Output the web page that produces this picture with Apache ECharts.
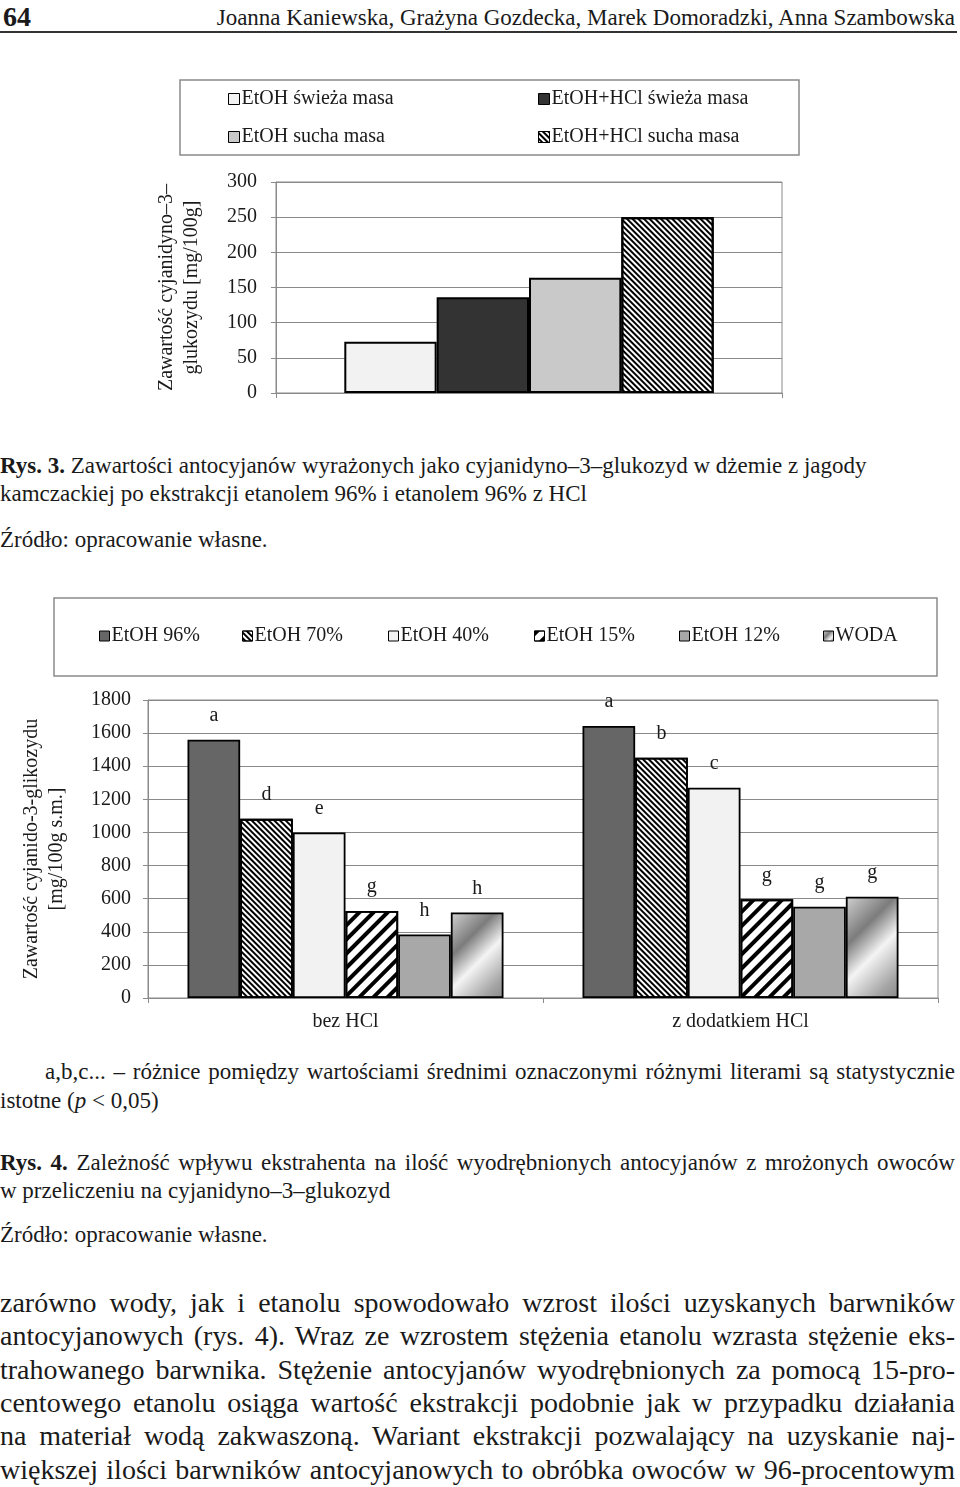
<!DOCTYPE html>
<html lang="pl">
<head>
<meta charset="utf-8">
<title>Rys. 3, Rys. 4</title>
<script src="https://cdn.jsdelivr.net/npm/echarts@6.0.0/dist/echarts.min.js"></script>
<style>
    html, body { margin: 0; padding: 0; background: #fff; }
    body { width: 960px; height: 1487px; position: relative; overflow: hidden;
        font-family: "Liberation Serif", "Times New Roman", serif; color: #1a1a1a; }
    .abs { position: absolute; left: 0; white-space: nowrap; }
    .full { width: 955px; text-align: justify; text-align-last: justify; }
    .cap { font-size: 23px; line-height: 28px; }
    .body { font-size: 28px; line-height: 33.3px; }
    #rys3 { position: absolute; left: 0; top: 60px; width: 960px; height: 360px; }
    #rys4 { position: absolute; left: 0; top: 590px; width: 960px; height: 450px; }
</style>
</head>
<body>
<div class="abs" style="top:0;left:3px;font-size:28px;line-height:34px;font-weight:bold;">64</div>
<div class="abs" style="top:4px;left:auto;right:5px;font-size:23px;line-height:28px;">Joanna Kaniewska, Grażyna Gozdecka, Marek Domoradzki, Anna Szambowska</div>
<div class="abs" style="top:31px;width:957px;height:2px;background:#333;"></div>

<div id="rys3"></div>

<div class="abs cap" style="top:452px;"><b>Rys. 3.</b> Zawartości antocyjanów wyrażonych jako cyjanidyno–3–glukozyd w dżemie z jagody</div>
<div class="abs cap" style="top:480px;">kamczackiej po ekstrakcji etanolem 96% i etanolem 96% z HCl</div>
<div class="abs cap" style="top:526px;">Źródło: opracowanie własne.</div>

<div id="rys4"></div>

<div class="abs cap full" style="top:1058px;left:45px;width:910px;">a,b,c... – różnice pomiędzy wartościami średnimi oznaczonymi różnymi literami są statystycznie</div>
<div class="abs cap" style="top:1087px;">istotne (<i>p</i> &lt; 0,05)</div>
<div class="abs cap full" style="top:1149px;"><b>Rys. 4.</b> Zależność wpływu ekstrahenta na ilość wyodrębnionych antocyjanów z mrożonych owoców</div>
<div class="abs cap" style="top:1177px;">w przeliczeniu na cyjanidyno–3–glukozyd</div>
<div class="abs cap" style="top:1221px;">Źródło: opracowanie własne.</div>

<div class="abs body full" style="top:1286px;">zarówno wody, jak i etanolu spowodowało wzrost ilości uzyskanych barwników</div>
<div class="abs body full" style="top:1319.3px;">antocyjanowych (rys. 4). Wraz ze wzrostem stężenia etanolu wzrasta stężenie eks-</div>
<div class="abs body full" style="top:1352.6px;">trahowanego barwnika. Stężenie antocyjanów wyodrębnionych za pomocą 15-pro-</div>
<div class="abs body full" style="top:1385.9px;">centowego etanolu osiąga wartość ekstrakcji podobnie jak w przypadku działania</div>
<div class="abs body full" style="top:1419.2px;">na materiał wodą zakwaszoną. Wariant ekstrakcji pozwalający na uzyskanie naj-</div>
<div class="abs body full" style="top:1452.5px;">większej ilości barwników antocyjanowych to obróbka owoców w 96-procentowym</div>

<script>
// Rys. 3 - dżem z jagody kamczackiej
var rys3Categories = [''];
var rys3Names = ['EtOH świeża masa', 'EtOH+HCl świeża masa', 'EtOH sucha masa', 'EtOH+HCl sucha masa'];
var rys3Values = [73, 136, 164, 250];
var rys3YTicks = [0, 50, 100, 150, 200, 250, 300];

// Rys. 4 - mrożone owoce
var rys4Categories = ['bez HCl', 'z dodatkiem HCl'];
var rys4Names = ['EtOH 96%', 'EtOH 70%', 'EtOH 40%', 'EtOH 15%', 'EtOH 12%', 'WODA'];
var etoh96 = [1560, 1643];
var etoh70 = [1082, 1451];
var etoh40 = [1000, 1270];
var etoh15 = [526, 596];
var etoh12 = [384, 551];
var woda = [517, 612];
var letters96 = ['a', 'a'];
var letters70 = ['d', 'b'];
var letters40 = ['e', 'c'];
var letters15 = ['g', 'g'];
var letters12 = ['h', 'g'];
var lettersWoda = ['h', 'g'];
var rys4YTicks = [0, 200, 400, 600, 800, 1000, 1200, 1400, 1600, 1800];

var FONT = '"Liberation Serif", "Times New Roman", serif';
var GREY = '#8a8a8a';
var INK = '#1a1a1a';

function stripes(dash, rotation) {
    return {
        symbol: 'rect', symbolSize: 1, dashArrayX: [1, 0], dashArrayY: dash,
        rotation: rotation, color: '#000', maxTileWidth: 256, maxTileHeight: 256
    };
}

function legendAt(name, left, top, size) {
    return {
        data: [name], left: left, top: top, padding: 0, itemGap: 0,
        itemWidth: size, itemHeight: size, icon: 'rect', selectedMode: false,
        itemStyle: { borderColor: '#000', borderWidth: 1 },
        textStyle: { fontFamily: FONT, fontSize: 20, color: INK, padding: [0, 0, 0, -3] }
    };
}

function valueAxis(ticks, name, gap, margin) {
    return {
        type: 'value',
        min: ticks[0],
        max: ticks[ticks.length - 1],
        interval: ticks[1] - ticks[0],
        name: name,
        nameLocation: 'middle',
        nameRotate: 90,
        nameGap: gap,
        nameTextStyle: { fontFamily: FONT, fontSize: 20, color: INK, lineHeight: 25 },
        axisLine: { show: true, lineStyle: { color: GREY, width: 1 } },
        axisTick: { show: true, length: 5, lineStyle: { color: GREY } },
        axisLabel: {
            fontFamily: FONT, fontSize: 20, color: INK, margin: margin,
            formatter: function (v) { return String(v); }
        },
        splitLine: { show: true, lineStyle: { color: GREY, width: 1 } }
    };
}

function initRys3() {
    var chart = echarts.init(document.getElementById('rys3'), null, { renderer: 'canvas' });
    var styles = [
        { color: '#f2f2f2' },
        { color: '#333333' },
        { color: '#c9c9c9' },
        { color: '#ffffff', decal: stripes([2, 2], Math.PI / 4) }
    ];
    var legendSpots = [[228, 29], [538, 29], [228, 67], [538, 67]];
    var option = {
        animation: false,
        graphic: [{
            type: 'rect', silent: true, z: -10,
            shape: { x: 180, y: 20, width: 619, height: 75 },
            style: { fill: 'none', stroke: GREY, lineWidth: 1.5 }
        }],
        legend: rys3Names.map(function (name, i) {
            return legendAt(name, legendSpots[i][0], legendSpots[i][1], 11);
        }),
        grid: { left: 276, right: 178, top: 122, bottom: 27, show: true, borderColor: GREY, borderWidth: 1, outerBoundsMode: 'none' },
        xAxis: {
            type: 'category',
            data: rys3Categories,
            axisLine: { lineStyle: { color: GREY } },
            axisTick: { show: true, length: 5, alignWithLabel: false, lineStyle: { color: GREY } },
            axisLabel: { show: false }
        },
        yAxis: valueAxis(rys3YTicks, 'Zawartość cyjanidyno–3–\nglukozydu [mg/100g]', 72, 19),
        series: rys3Names.map(function (name, i) {
            var style = Object.assign({ borderColor: '#000', borderWidth: 2 }, styles[i]);
            return {
                name: name,
                type: 'bar',
                barGap: 0,
                barCategoryGap: '27%',
                itemStyle: style,
                data: [rys3Values[i]]
            };
        })
    };
    chart.setOption(option);
    return chart;
}

function initRys4() {
    var chart = echarts.init(document.getElementById('rys4'), null, { renderer: 'canvas' });
    var values = [etoh96, etoh70, etoh40, etoh15, etoh12, woda];
    var letters = [letters96, letters70, letters40, letters15, letters12, lettersWoda];
    var plotHeight = 298;
    var barWidth = 52.8;
    var yMax = rys4YTicks[rys4YTicks.length - 1];

    // gradient for WODA with bands at 45 deg across the whole bar
    function wodaGradient(v) {
        var h = v / yMax * plotHeight;
        var s = (barWidth + h) / 2;
        return new echarts.graphic.LinearGradient(0, 0, s / barWidth, s / h, [
            { offset: 0, color: '#d2d2d2' },
            { offset: 0.32, color: '#7c7c7c' },
            { offset: 0.56, color: '#f4f4f4' },
            { offset: 0.85, color: '#a4a4a4' },
            { offset: 1, color: '#8a8a8a' }
        ]);
    }

    var styles = [
        { color: '#666666' },
        { color: '#ffffff', decal: stripes([2, 2], Math.PI / 4) },
        { color: '#f2f2f2' },
        { color: '#ffffff', decal: stripes([3.5, 6], -Math.PI / 4) },
        { color: '#a8a8a8' },
        { color: new echarts.graphic.LinearGradient(0, 0, 1, 1, [
            { offset: 0, color: '#d2d2d2' },
            { offset: 0.4, color: '#7c7c7c' },
            { offset: 0.7, color: '#f4f4f4' },
            { offset: 1, color: '#8a8a8a' }
        ]) }
    ];
    var legendLeft = [99, 242, 388, 534, 679, 823];

    var option = {
        animation: false,
        graphic: [{
            type: 'rect', silent: true, z: -10,
            shape: { x: 54, y: 8, width: 883, height: 78 },
            style: { fill: 'none', stroke: GREY, lineWidth: 1.5 }
        }],
        legend: rys4Names.map(function (name, i) {
            return legendAt(name, legendLeft[i], 36, 10);
        }),
        grid: { left: 148, right: 22, top: 110, bottom: 42, show: true, borderColor: GREY, borderWidth: 1, outerBoundsMode: 'none' },
        xAxis: {
            type: 'category',
            data: rys4Categories,
            axisLine: { lineStyle: { color: GREY } },
            axisTick: { show: true, length: 5, interval: 0, alignWithLabel: false, lineStyle: { color: GREY } },
            axisLabel: { fontFamily: FONT, fontSize: 20, color: INK, margin: 14 }
        },
        yAxis: valueAxis(rys4YTicks, 'Zawartość cyjanido-3-glikozydu\n[mg/100g s.m.]', 79, 17),
        series: rys4Names.map(function (name, i) {
            var style = Object.assign({ borderColor: '#000', borderWidth: 1.8 }, styles[i]);
            var data = values[i].map(function (v) {
                if (name === 'WODA') {
                    return { value: v, itemStyle: { color: wodaGradient(v) } };
                }
                return v;
            });
            return {
                name: name,
                type: 'bar',
                barGap: 0,
                barCategoryGap: '20%',
                itemStyle: style,
                label: {
                    show: true,
                    position: 'top',
                    distance: 14,
                    fontFamily: FONT,
                    fontSize: 20,
                    color: INK,
                    formatter: function (p) {
                        return letters[i][p.dataIndex];
                    }
                },
                data: data
            };
        })
    };
    chart.setOption(option);
    return chart;
}

var rys3Chart = initRys3();
var rys4Chart = initRys4();
window.addEventListener('resize', function () {
    rys3Chart.resize();
    rys4Chart.resize();
});
</script>
</body>
</html>
